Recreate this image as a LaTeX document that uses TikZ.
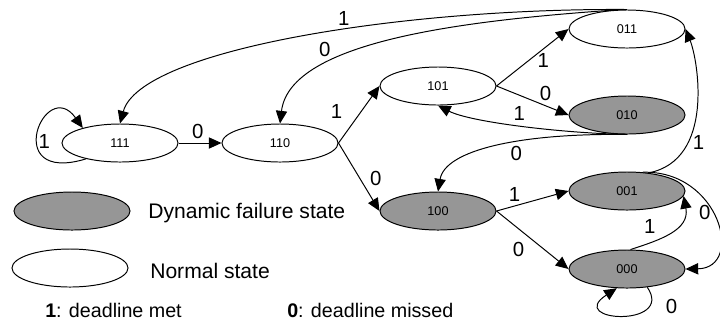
\documentclass[tikz,border=0pt]{standalone}
\usepackage{fontspec}
\setmainfont{Liberation Sans}
\usetikzlibrary{shapes.geometric,arrows.meta}
\definecolor{failgray}{RGB}{150,150,150}

\begin{document}
\begin{tikzpicture}[x=0.025cm,y=-0.025cm,
 state/.style={ellipse,draw,line width=0.7pt,minimum width=2.9cm,minimum height=0.95cm,inner sep=0pt,font=\fontsize{9}{10}\selectfont},
 fail/.style={state,fill=failgray},
 Direct/.style={-{Triangle[length=9pt,width=8pt]},line width=0.7pt},
 lbl/.style={inner sep=3pt,font=\fontsize{14.5}{16}\selectfont},
 legend/.style={anchor=base west,inner sep=0pt,font=\fontsize{15}{18}\selectfont}]
 \useasboundingbox (0,0) rectangle (720,324);
 \node[state] (s111) at (120,143) {111};
 \node[state] (s110) at (280,143) {110};
 \node[state] (s101) at (438,86) {101};
 \node[state] (s011) at (627,29) {011};
 \node[fail] (s010) at (627,115) {010};
 \node[fail] (s100) at (438,211) {100};
 \node[fail] (s001) at (627,191) {001};
 \node[fail] (s000) at (627,269) {000};
 \node[fail] (kfail) at (72,211) {};
 \node[state] (knorm) at (70,268) {};
 \node[legend] (tfail) at (148,218) {Dynamic failure state};
 \node[legend] (tnorm) at (150,278) {Normal state};
 \node[legend,font=\fontsize{14}{16}\selectfont] (tmet) at (45,317) {\textbf{1}: deadline met};
 \node[legend,font=\fontsize{14}{16}\selectfont] (tmiss) at (287,317) {\textbf{0}: deadline missed};

 \draw[Direct] (s111.east) -- node[lbl,above,pos=.45]{0} (s110.west);
 \draw[Direct] (s111.205) .. controls (0,185) and (45,75) .. node[lbl,right=-2pt,pos=.42]{1} (s111.158);
 \draw[Direct] (s011.north) .. controls (400,8) and (140,50) .. node[lbl,above,pos=.42]{1} (s111.north);
 \draw[Direct] (s011.110) .. controls (470,20) and (290,40) .. node[lbl,above left,pos=.68]{0} (s110.north);
 \draw[Direct] (s110.east) -- node[lbl,left=10pt,pos=.55]{1} (s101.west);
 \draw[Direct] (s110.east) -- node[lbl,right=4pt,pos=.52]{0} (s100.west);
 \draw[Direct] (s101.east) -- node[lbl,below,pos=.65]{1} (s011.west);
 \draw[Direct] (s101.east) -- node[lbl,above,pos=.68]{0} (s010.west);
 \draw[Direct] (s010.south) .. controls (560,133) and (470,122) .. node[lbl,above,pos=.5]{1} (s101.south);
 \draw[Direct] (s010.south) .. controls (520,133) and (445,150) .. node[lbl,below,pos=.4]{0} (s100.north);
 \draw[Direct] (s001.40) .. controls (715,160) and (698,60) .. node[lbl,right,pos=.3]{1} (s011.east);
 \draw[Direct] (s100.east) -- node[lbl,above,pos=.25]{1} (s001.west);
 \draw[Direct] (s100.east) -- node[lbl,below left,pos=.45]{0} (s000.west);
 \draw[Direct] (s000.80) .. controls (660,240) and (690,230) .. node[lbl,above left,pos=.35]{1} (s001.-5);
 \draw[Direct] (s001.50) .. controls (720,170) and (745,268) .. node[lbl,left=-2pt,pos=.45]{0} (s000.east);
 \draw[Direct] (s000.-42) .. controls (675,328) and (565,322) .. node[lbl,right=8pt,pos=.2]{0} (s000.-118);
\end{tikzpicture}
\end{document}
